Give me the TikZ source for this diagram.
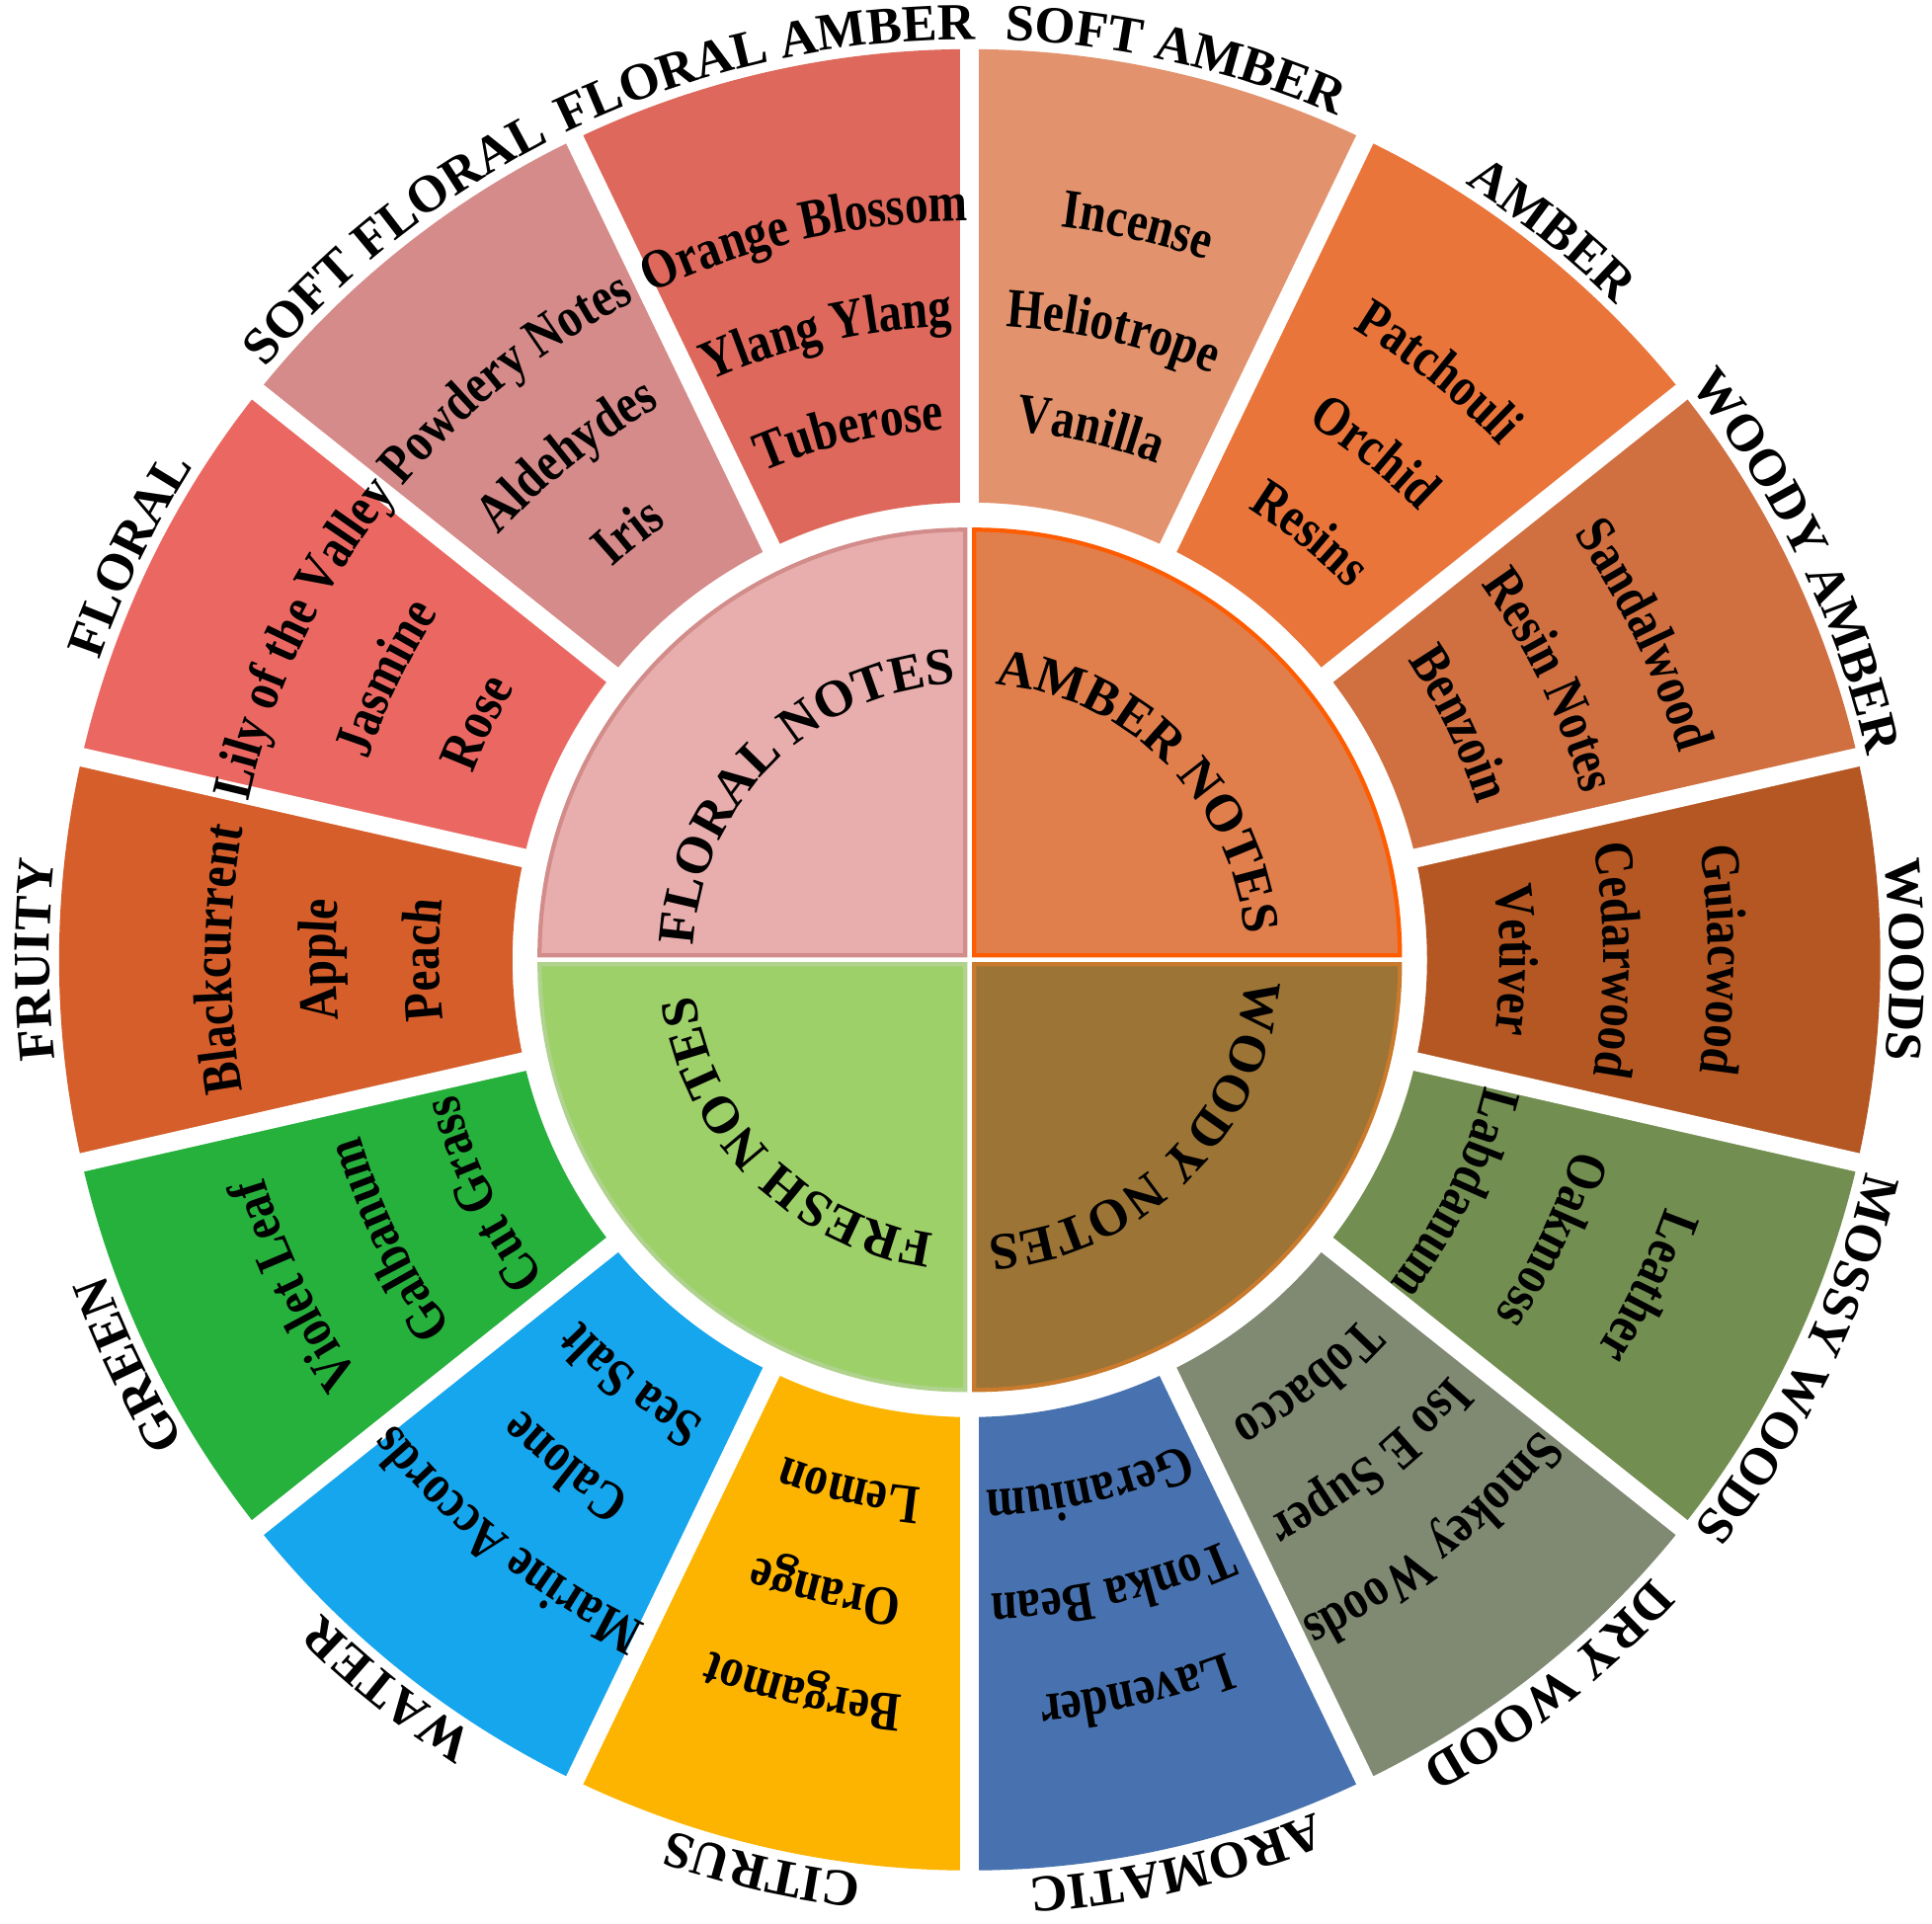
\documentclass[tikz,border=0pt]{standalone}
\usepackage{fontspec}
\setmainfont{Liberation Serif}
\newfontfamily\notefamily[FakeStretch=0.84]{Liberation Serif}
\usetikzlibrary{decorations.text}
% ring colours
\definecolor{cSoftAmber}{HTML}{E2936D}
\definecolor{cAmber}{HTML}{EA753A}
\definecolor{cWoodyAmber}{HTML}{D06F40}
\definecolor{cWoods}{HTML}{B45722}
\definecolor{cMossyWoods}{HTML}{728E50}
\definecolor{cDryWood}{HTML}{808A73}
\definecolor{cAromatic}{HTML}{4872AF}
\definecolor{cCitrus}{HTML}{FDB400}
\definecolor{cWater}{HTML}{16A6EE}
\definecolor{cGreen}{HTML}{26B03C}
\definecolor{cFruity}{HTML}{D55E2A}
\definecolor{cFloral}{HTML}{EB6862}
\definecolor{cSoftFloral}{HTML}{D58B89}
\definecolor{cFloralAmber}{HTML}{DD685B}
% centre colours (fill / edge)
\definecolor{cFloralNotes}{HTML}{E8AEAD}
\definecolor{eFloralNotes}{HTML}{D28C8A}
\definecolor{cAmberNotes}{HTML}{E07E4C}
\definecolor{eAmberNotes}{HTML}{FF5C00}
\definecolor{cFreshNotes}{HTML}{9ED06A}
\definecolor{eFreshNotes}{HTML}{AFD38E}
\definecolor{cWoodyNotes}{HTML}{9B7436}
\definecolor{eWoodyNotes}{HTML}{C97A2C}
\newcommand\familyfont{\bfseries\fontsize{15}{18}\selectfont}
\newcommand\notefont{\notefamily\bfseries\fontsize{16}{19}\selectfont}
\tikzset{
  whitegap/.style={white, line width=0.19cm},
  ringtext/.style 2 args={decorate, decoration={text along path, text align=center,
      text/.expanded={|\noexpand#1|#2}}},
}
% index / colour / family / outer, middle, inner note
\def\families{%
  0/cSoftAmber/SOFT AMBER/Incense/Heliotrope/Vanilla,
  1/cAmber/AMBER/Patchouli/Orchid/Resins,
  2/cWoodyAmber/WOODY AMBER/Sandalwood/Resin Notes/Benzoin,
  3/cWoods/WOODS/Guiacwood/Cedarwood/Vetiver,
  4/cMossyWoods/MOSSY WOODS/Leather/Oakmoss/Labdanum,
  5/cDryWood/DRY WOOD/Smokey Woods/Iso E Super/Tobacco,
  6/cAromatic/AROMATIC/Lavender/Tonka Bean/Geranium,
  7/cCitrus/CITRUS/Bergamot/Orange/Lemon,
  8/cWater/WATER/Marine Accords/Calone/Sea Salt,
  9/cGreen/GREEN/Violet Leaf/Galbanum/Cut Grass,
  10/cFruity/FRUITY/Blackcurrent/Apple/Peach,
  11/cFloral/FLORAL/Lily of the Valley/Jasmine/Rose,
  12/cSoftFloral/SOFT FLORAL/Powdery Notes/Aldehydes/Iris,
  13/cFloralAmber/FLORAL AMBER/Orange Blossom/Ylang Ylang/Tuberose}
\begin{document}
\begin{tikzpicture}[x=0.01cm, y=0.01cm]
  \useasboundingbox (-981.8,-976.2) rectangle (974.2,971.8);
  % outer ring of fourteen families
  \foreach \k/\col/\lab/\na/\nb/\nc in \families {
    \pgfmathsetmacro\s{77.142857-\k*25.714286+12.857143}
    \pgfmathsetmacro\e{\s-25.714286}
    \fill[\col] (\s:463) arc[start angle=\s, end angle=\e, radius=463]
      -- (\e:922) arc[start angle=\e, end angle=\s, radius=922] -- cycle;
  }
  % white gaps between the families
  \foreach \k in {0,...,13}
    \draw[whitegap] (0,0) -- ({90-\k*25.714286}:926);
  % inner quarters
  \foreach \a/\fc/\dc/\sx/\sy in {0/cAmberNotes/eAmberNotes/1/1, 90/cFloralNotes/eFloralNotes/-1/1,
      180/cFreshNotes/eFreshNotes/-1/-1, 270/cWoodyNotes/eWoodyNotes/1/-1}
    \draw[fill=\fc, draw=\dc, line width=1.2pt, shift={(\sx*4.5,\sy*4.5)}]
      (0,0) -- (\a:431) arc[start angle=\a, delta angle=90, radius=431] -- cycle;
  % family names and their notes
  \foreach \k/\col/\lab/\na/\nb/\nc in \families {
    \pgfmathsetmacro\s{77.142857-\k*25.714286+40}
    \path[ringtext={\familyfont}{\lab}] (\s:932) arc[start angle=\s, delta angle=-80, radius=932];
    \path[ringtext={\notefont}{\na}] (\s:748) arc[start angle=\s, delta angle=-80, radius=748];
    \path[ringtext={\notefont}{\nb}] (\s:642) arc[start angle=\s, delta angle=-80, radius=642];
    \path[ringtext={\notefont}{\nc}] (\s:537) arc[start angle=\s, delta angle=-80, radius=537];
  }
  % quarter titles
  \foreach \t/\lab in {45/AMBER NOTES, 135/FLORAL NOTES, -135/FRESH NOTES, -45/WOODY NOTES} {
    \pgfmathsetmacro\s{\t+85}
    \path[ringtext={\familyfont}{\lab}] (\s:280) arc[start angle=\s, delta angle=-170, radius=280];
  }
\end{tikzpicture}
\end{document}
